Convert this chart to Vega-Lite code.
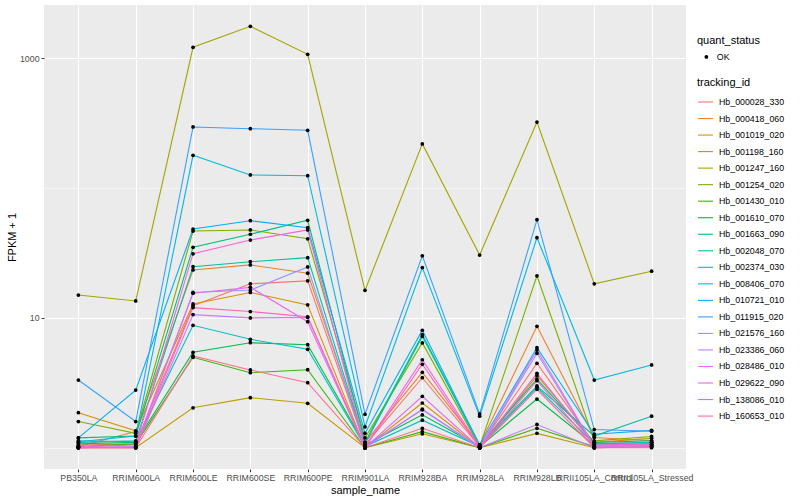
{
  "$schema": "https://vega.github.io/schema/vega-lite/v6.json",
  "autosize": {"type": "none"},
  "width": 642,
  "height": 464,
  "padding": {"left": 44, "top": 5, "right": 114, "bottom": 31},
  "background": "white",
  "config": {
    "view": {"fill": "#EBEBEB", "stroke": null},
    "font": "Liberation Sans",
    "axis": {
      "domain": false,
      "labelColor": "#4D4D4D",
      "labelFontSize": 8.8,
      "labelFont": "Liberation Sans",
      "tickColor": "#333333",
      "tickSize": 2.75,
      "tickWidth": 1,
      "labelPadding": 2.2,
      "titleFontSize": 11,
      "titleFont": "Liberation Sans",
      "titleFontWeight": "normal",
      "titleColor": "black",
      "gridColor": "white"
    },
    "legend": {
      "titleFontSize": 11,
      "titleFont": "Liberation Sans",
      "titleFontWeight": "normal",
      "titleColor": "black",
      "labelFontSize": 8.8,
      "labelFont": "Liberation Sans",
      "labelColor": "black",
      "padding": 0
    }
  },
  "datasets": {
    "expr": [
      {"tracking_id":"Hb_000028_330","sample_name":"PB350LA","fpkm":1.05,"quant_status":"OK"},
      {"tracking_id":"Hb_000028_330","sample_name":"RRIM600LA","fpkm":1.07,"quant_status":"OK"},
      {"tracking_id":"Hb_000028_330","sample_name":"RRIM600LE","fpkm":12.4,"quant_status":"OK"},
      {"tracking_id":"Hb_000028_330","sample_name":"RRIM600SE","fpkm":18.3,"quant_status":"OK"},
      {"tracking_id":"Hb_000028_330","sample_name":"RRIM600PE","fpkm":19.3,"quant_status":"OK"},
      {"tracking_id":"Hb_000028_330","sample_name":"RRIM901LA","fpkm":1.05,"quant_status":"OK"},
      {"tracking_id":"Hb_000028_330","sample_name":"RRIM928BA","fpkm":3.46,"quant_status":"OK"},
      {"tracking_id":"Hb_000028_330","sample_name":"RRIM928LA","fpkm":1.02,"quant_status":"OK"},
      {"tracking_id":"Hb_000028_330","sample_name":"RRIM928LB","fpkm":4.47,"quant_status":"OK"},
      {"tracking_id":"Hb_000028_330","sample_name":"RRII105LA_Control","fpkm":1.07,"quant_status":"OK"},
      {"tracking_id":"Hb_000028_330","sample_name":"RRII105LA_Stressed","fpkm":1.10,"quant_status":"OK"},

      {"tracking_id":"Hb_000418_060","sample_name":"PB350LA","fpkm":1.02,"quant_status":"OK"},
      {"tracking_id":"Hb_000418_060","sample_name":"RRIM600LA","fpkm":1.33,"quant_status":"OK"},
      {"tracking_id":"Hb_000418_060","sample_name":"RRIM600LE","fpkm":23.4,"quant_status":"OK"},
      {"tracking_id":"Hb_000418_060","sample_name":"RRIM600SE","fpkm":25.6,"quant_status":"OK"},
      {"tracking_id":"Hb_000418_060","sample_name":"RRIM600PE","fpkm":22.1,"quant_status":"OK"},
      {"tracking_id":"Hb_000418_060","sample_name":"RRIM901LA","fpkm":1.10,"quant_status":"OK"},
      {"tracking_id":"Hb_000418_060","sample_name":"RRIM928BA","fpkm":3.81,"quant_status":"OK"},
      {"tracking_id":"Hb_000418_060","sample_name":"RRIM928LA","fpkm":1.05,"quant_status":"OK"},
      {"tracking_id":"Hb_000418_060","sample_name":"RRIM928LB","fpkm":8.61,"quant_status":"OK"},
      {"tracking_id":"Hb_000418_060","sample_name":"RRII105LA_Control","fpkm":1.20,"quant_status":"OK"},
      {"tracking_id":"Hb_000418_060","sample_name":"RRII105LA_Stressed","fpkm":1.13,"quant_status":"OK"},

      {"tracking_id":"Hb_001019_020","sample_name":"PB350LA","fpkm":1.86,"quant_status":"OK"},
      {"tracking_id":"Hb_001019_020","sample_name":"RRIM600LA","fpkm":1.35,"quant_status":"OK"},
      {"tracking_id":"Hb_001019_020","sample_name":"RRIM600LE","fpkm":12.8,"quant_status":"OK"},
      {"tracking_id":"Hb_001019_020","sample_name":"RRIM600SE","fpkm":15.7,"quant_status":"OK"},
      {"tracking_id":"Hb_001019_020","sample_name":"RRIM600PE","fpkm":12.6,"quant_status":"OK"},
      {"tracking_id":"Hb_001019_020","sample_name":"RRIM901LA","fpkm":1.00,"quant_status":"OK"},
      {"tracking_id":"Hb_001019_020","sample_name":"RRIM928BA","fpkm":2.21,"quant_status":"OK"},
      {"tracking_id":"Hb_001019_020","sample_name":"RRIM928LA","fpkm":1.00,"quant_status":"OK"},
      {"tracking_id":"Hb_001019_020","sample_name":"RRIM928LB","fpkm":3.59,"quant_status":"OK"},
      {"tracking_id":"Hb_001019_020","sample_name":"RRII105LA_Control","fpkm":1.10,"quant_status":"OK"},
      {"tracking_id":"Hb_001019_020","sample_name":"RRII105LA_Stressed","fpkm":1.18,"quant_status":"OK"},

      {"tracking_id":"Hb_001198_160","sample_name":"PB350LA","fpkm":1.00,"quant_status":"OK"},
      {"tracking_id":"Hb_001198_160","sample_name":"RRIM600LA","fpkm":1.00,"quant_status":"OK"},
      {"tracking_id":"Hb_001198_160","sample_name":"RRIM600LE","fpkm":2.03,"quant_status":"OK"},
      {"tracking_id":"Hb_001198_160","sample_name":"RRIM600SE","fpkm":2.43,"quant_status":"OK"},
      {"tracking_id":"Hb_001198_160","sample_name":"RRIM600PE","fpkm":2.20,"quant_status":"OK"},
      {"tracking_id":"Hb_001198_160","sample_name":"RRIM901LA","fpkm":1.00,"quant_status":"OK"},
      {"tracking_id":"Hb_001198_160","sample_name":"RRIM928BA","fpkm":1.28,"quant_status":"OK"},
      {"tracking_id":"Hb_001198_160","sample_name":"RRIM928LA","fpkm":1.00,"quant_status":"OK"},
      {"tracking_id":"Hb_001198_160","sample_name":"RRIM928LB","fpkm":1.29,"quant_status":"OK"},
      {"tracking_id":"Hb_001198_160","sample_name":"RRII105LA_Control","fpkm":1.00,"quant_status":"OK"},
      {"tracking_id":"Hb_001198_160","sample_name":"RRII105LA_Stressed","fpkm":1.02,"quant_status":"OK"},

      {"tracking_id":"Hb_001247_160","sample_name":"PB350LA","fpkm":15.0,"quant_status":"OK"},
      {"tracking_id":"Hb_001247_160","sample_name":"RRIM600LA","fpkm":13.5,"quant_status":"OK"},
      {"tracking_id":"Hb_001247_160","sample_name":"RRIM600LE","fpkm":1216,"quant_status":"OK"},
      {"tracking_id":"Hb_001247_160","sample_name":"RRIM600SE","fpkm":1765,"quant_status":"OK"},
      {"tracking_id":"Hb_001247_160","sample_name":"RRIM600PE","fpkm":1074,"quant_status":"OK"},
      {"tracking_id":"Hb_001247_160","sample_name":"RRIM901LA","fpkm":16.3,"quant_status":"OK"},
      {"tracking_id":"Hb_001247_160","sample_name":"RRIM928BA","fpkm":219,"quant_status":"OK"},
      {"tracking_id":"Hb_001247_160","sample_name":"RRIM928LA","fpkm":30.5,"quant_status":"OK"},
      {"tracking_id":"Hb_001247_160","sample_name":"RRIM928LB","fpkm":323,"quant_status":"OK"},
      {"tracking_id":"Hb_001247_160","sample_name":"RRII105LA_Control","fpkm":18.3,"quant_status":"OK"},
      {"tracking_id":"Hb_001247_160","sample_name":"RRII105LA_Stressed","fpkm":22.9,"quant_status":"OK"},

      {"tracking_id":"Hb_001254_020","sample_name":"PB350LA","fpkm":1.59,"quant_status":"OK"},
      {"tracking_id":"Hb_001254_020","sample_name":"RRIM600LA","fpkm":1.29,"quant_status":"OK"},
      {"tracking_id":"Hb_001254_020","sample_name":"RRIM600LE","fpkm":46.7,"quant_status":"OK"},
      {"tracking_id":"Hb_001254_020","sample_name":"RRIM600SE","fpkm":47.6,"quant_status":"OK"},
      {"tracking_id":"Hb_001254_020","sample_name":"RRIM600PE","fpkm":40.7,"quant_status":"OK"},
      {"tracking_id":"Hb_001254_020","sample_name":"RRIM901LA","fpkm":1.19,"quant_status":"OK"},
      {"tracking_id":"Hb_001254_020","sample_name":"RRIM928BA","fpkm":6.41,"quant_status":"OK"},
      {"tracking_id":"Hb_001254_020","sample_name":"RRIM928LA","fpkm":1.02,"quant_status":"OK"},
      {"tracking_id":"Hb_001254_020","sample_name":"RRIM928LB","fpkm":21.1,"quant_status":"OK"},
      {"tracking_id":"Hb_001254_020","sample_name":"RRII105LA_Control","fpkm":1.13,"quant_status":"OK"},
      {"tracking_id":"Hb_001254_020","sample_name":"RRII105LA_Stressed","fpkm":1.22,"quant_status":"OK"},

      {"tracking_id":"Hb_001430_010","sample_name":"PB350LA","fpkm":1.02,"quant_status":"OK"},
      {"tracking_id":"Hb_001430_010","sample_name":"RRIM600LA","fpkm":1.07,"quant_status":"OK"},
      {"tracking_id":"Hb_001430_010","sample_name":"RRIM600LE","fpkm":4.97,"quant_status":"OK"},
      {"tracking_id":"Hb_001430_010","sample_name":"RRIM600SE","fpkm":3.78,"quant_status":"OK"},
      {"tracking_id":"Hb_001430_010","sample_name":"RRIM600PE","fpkm":3.99,"quant_status":"OK"},
      {"tracking_id":"Hb_001430_010","sample_name":"RRIM901LA","fpkm":1.00,"quant_status":"OK"},
      {"tracking_id":"Hb_001430_010","sample_name":"RRIM928BA","fpkm":1.33,"quant_status":"OK"},
      {"tracking_id":"Hb_001430_010","sample_name":"RRIM928LA","fpkm":1.00,"quant_status":"OK"},
      {"tracking_id":"Hb_001430_010","sample_name":"RRIM928LB","fpkm":1.41,"quant_status":"OK"},
      {"tracking_id":"Hb_001430_010","sample_name":"RRII105LA_Control","fpkm":1.02,"quant_status":"OK"},
      {"tracking_id":"Hb_001430_010","sample_name":"RRII105LA_Stressed","fpkm":1.05,"quant_status":"OK"},

      {"tracking_id":"Hb_001610_070","sample_name":"PB350LA","fpkm":1.07,"quant_status":"OK"},
      {"tracking_id":"Hb_001610_070","sample_name":"RRIM600LA","fpkm":1.10,"quant_status":"OK"},
      {"tracking_id":"Hb_001610_070","sample_name":"RRIM600LE","fpkm":5.43,"quant_status":"OK"},
      {"tracking_id":"Hb_001610_070","sample_name":"RRIM600SE","fpkm":6.44,"quant_status":"OK"},
      {"tracking_id":"Hb_001610_070","sample_name":"RRIM600PE","fpkm":6.22,"quant_status":"OK"},
      {"tracking_id":"Hb_001610_070","sample_name":"RRIM901LA","fpkm":1.05,"quant_status":"OK"},
      {"tracking_id":"Hb_001610_070","sample_name":"RRIM928BA","fpkm":1.79,"quant_status":"OK"},
      {"tracking_id":"Hb_001610_070","sample_name":"RRIM928LA","fpkm":1.02,"quant_status":"OK"},
      {"tracking_id":"Hb_001610_070","sample_name":"RRIM928LB","fpkm":2.37,"quant_status":"OK"},
      {"tracking_id":"Hb_001610_070","sample_name":"RRII105LA_Control","fpkm":1.05,"quant_status":"OK"},
      {"tracking_id":"Hb_001610_070","sample_name":"RRII105LA_Stressed","fpkm":1.07,"quant_status":"OK"},

      {"tracking_id":"Hb_001663_090","sample_name":"PB350LA","fpkm":1.19,"quant_status":"OK"},
      {"tracking_id":"Hb_001663_090","sample_name":"RRIM600LA","fpkm":1.23,"quant_status":"OK"},
      {"tracking_id":"Hb_001663_090","sample_name":"RRIM600LE","fpkm":35.0,"quant_status":"OK"},
      {"tracking_id":"Hb_001663_090","sample_name":"RRIM600SE","fpkm":44.1,"quant_status":"OK"},
      {"tracking_id":"Hb_001663_090","sample_name":"RRIM600PE","fpkm":56.5,"quant_status":"OK"},
      {"tracking_id":"Hb_001663_090","sample_name":"RRIM901LA","fpkm":1.10,"quant_status":"OK"},
      {"tracking_id":"Hb_001663_090","sample_name":"RRIM928BA","fpkm":7.42,"quant_status":"OK"},
      {"tracking_id":"Hb_001663_090","sample_name":"RRIM928LA","fpkm":1.05,"quant_status":"OK"},
      {"tracking_id":"Hb_001663_090","sample_name":"RRIM928LB","fpkm":3.38,"quant_status":"OK"},
      {"tracking_id":"Hb_001663_090","sample_name":"RRII105LA_Control","fpkm":1.10,"quant_status":"OK"},
      {"tracking_id":"Hb_001663_090","sample_name":"RRII105LA_Stressed","fpkm":1.13,"quant_status":"OK"},

      {"tracking_id":"Hb_002048_070","sample_name":"PB350LA","fpkm":1.10,"quant_status":"OK"},
      {"tracking_id":"Hb_002048_070","sample_name":"RRIM600LA","fpkm":1.13,"quant_status":"OK"},
      {"tracking_id":"Hb_002048_070","sample_name":"RRIM600LE","fpkm":24.8,"quant_status":"OK"},
      {"tracking_id":"Hb_002048_070","sample_name":"RRIM600SE","fpkm":27.1,"quant_status":"OK"},
      {"tracking_id":"Hb_002048_070","sample_name":"RRIM600PE","fpkm":29.1,"quant_status":"OK"},
      {"tracking_id":"Hb_002048_070","sample_name":"RRIM901LA","fpkm":1.07,"quant_status":"OK"},
      {"tracking_id":"Hb_002048_070","sample_name":"RRIM928BA","fpkm":7.20,"quant_status":"OK"},
      {"tracking_id":"Hb_002048_070","sample_name":"RRIM928LA","fpkm":1.05,"quant_status":"OK"},
      {"tracking_id":"Hb_002048_070","sample_name":"RRIM928LB","fpkm":2.99,"quant_status":"OK"},
      {"tracking_id":"Hb_002048_070","sample_name":"RRII105LA_Control","fpkm":1.23,"quant_status":"OK"},
      {"tracking_id":"Hb_002048_070","sample_name":"RRII105LA_Stressed","fpkm":1.75,"quant_status":"OK"},

      {"tracking_id":"Hb_002374_030","sample_name":"PB350LA","fpkm":1.13,"quant_status":"OK"},
      {"tracking_id":"Hb_002374_030","sample_name":"RRIM600LA","fpkm":1.11,"quant_status":"OK"},
      {"tracking_id":"Hb_002374_030","sample_name":"RRIM600LE","fpkm":8.77,"quant_status":"OK"},
      {"tracking_id":"Hb_002374_030","sample_name":"RRIM600SE","fpkm":6.84,"quant_status":"OK"},
      {"tracking_id":"Hb_002374_030","sample_name":"RRIM600PE","fpkm":5.73,"quant_status":"OK"},
      {"tracking_id":"Hb_002374_030","sample_name":"RRIM901LA","fpkm":1.02,"quant_status":"OK"},
      {"tracking_id":"Hb_002374_030","sample_name":"RRIM928BA","fpkm":1.63,"quant_status":"OK"},
      {"tracking_id":"Hb_002374_030","sample_name":"RRIM928LA","fpkm":1.02,"quant_status":"OK"},
      {"tracking_id":"Hb_002374_030","sample_name":"RRIM928LB","fpkm":2.92,"quant_status":"OK"},
      {"tracking_id":"Hb_002374_030","sample_name":"RRII105LA_Control","fpkm":1.07,"quant_status":"OK"},
      {"tracking_id":"Hb_002374_030","sample_name":"RRII105LA_Stressed","fpkm":1.10,"quant_status":"OK"},

      {"tracking_id":"Hb_008406_070","sample_name":"PB350LA","fpkm":1.11,"quant_status":"OK"},
      {"tracking_id":"Hb_008406_070","sample_name":"RRIM600LA","fpkm":1.23,"quant_status":"OK"},
      {"tracking_id":"Hb_008406_070","sample_name":"RRIM600LE","fpkm":178.9,"quant_status":"OK"},
      {"tracking_id":"Hb_008406_070","sample_name":"RRIM600SE","fpkm":126.2,"quant_status":"OK"},
      {"tracking_id":"Hb_008406_070","sample_name":"RRIM600PE","fpkm":124.6,"quant_status":"OK"},
      {"tracking_id":"Hb_008406_070","sample_name":"RRIM901LA","fpkm":1.45,"quant_status":"OK"},
      {"tracking_id":"Hb_008406_070","sample_name":"RRIM928BA","fpkm":24.4,"quant_status":"OK"},
      {"tracking_id":"Hb_008406_070","sample_name":"RRIM928LA","fpkm":1.75,"quant_status":"OK"},
      {"tracking_id":"Hb_008406_070","sample_name":"RRIM928LB","fpkm":41.5,"quant_status":"OK"},
      {"tracking_id":"Hb_008406_070","sample_name":"RRII105LA_Control","fpkm":3.32,"quant_status":"OK"},
      {"tracking_id":"Hb_008406_070","sample_name":"RRII105LA_Stressed","fpkm":4.34,"quant_status":"OK"},

      {"tracking_id":"Hb_010721_010","sample_name":"PB350LA","fpkm":1.19,"quant_status":"OK"},
      {"tracking_id":"Hb_010721_010","sample_name":"RRIM600LA","fpkm":2.78,"quant_status":"OK"},
      {"tracking_id":"Hb_010721_010","sample_name":"RRIM600LE","fpkm":48.4,"quant_status":"OK"},
      {"tracking_id":"Hb_010721_010","sample_name":"RRIM600SE","fpkm":56.1,"quant_status":"OK"},
      {"tracking_id":"Hb_010721_010","sample_name":"RRIM600PE","fpkm":49.5,"quant_status":"OK"},
      {"tracking_id":"Hb_010721_010","sample_name":"RRIM901LA","fpkm":1.29,"quant_status":"OK"},
      {"tracking_id":"Hb_010721_010","sample_name":"RRIM928BA","fpkm":8.03,"quant_status":"OK"},
      {"tracking_id":"Hb_010721_010","sample_name":"RRIM928LA","fpkm":1.05,"quant_status":"OK"},
      {"tracking_id":"Hb_010721_010","sample_name":"RRIM928LB","fpkm":5.89,"quant_status":"OK"},
      {"tracking_id":"Hb_010721_010","sample_name":"RRII105LA_Control","fpkm":1.27,"quant_status":"OK"},
      {"tracking_id":"Hb_010721_010","sample_name":"RRII105LA_Stressed","fpkm":1.36,"quant_status":"OK"},

      {"tracking_id":"Hb_011915_020","sample_name":"PB350LA","fpkm":3.32,"quant_status":"OK"},
      {"tracking_id":"Hb_011915_020","sample_name":"RRIM600LA","fpkm":1.59,"quant_status":"OK"},
      {"tracking_id":"Hb_011915_020","sample_name":"RRIM600LE","fpkm":295.7,"quant_status":"OK"},
      {"tracking_id":"Hb_011915_020","sample_name":"RRIM600SE","fpkm":286.8,"quant_status":"OK"},
      {"tracking_id":"Hb_011915_020","sample_name":"RRIM600PE","fpkm":278.7,"quant_status":"OK"},
      {"tracking_id":"Hb_011915_020","sample_name":"RRIM901LA","fpkm":1.81,"quant_status":"OK"},
      {"tracking_id":"Hb_011915_020","sample_name":"RRIM928BA","fpkm":30.1,"quant_status":"OK"},
      {"tracking_id":"Hb_011915_020","sample_name":"RRIM928LA","fpkm":1.82,"quant_status":"OK"},
      {"tracking_id":"Hb_011915_020","sample_name":"RRIM928LB","fpkm":57.1,"quant_status":"OK"},
      {"tracking_id":"Hb_011915_020","sample_name":"RRII105LA_Control","fpkm":1.38,"quant_status":"OK"},
      {"tracking_id":"Hb_011915_020","sample_name":"RRII105LA_Stressed","fpkm":1.34,"quant_status":"OK"},

      {"tracking_id":"Hb_021576_160","sample_name":"PB350LA","fpkm":1.00,"quant_status":"OK"},
      {"tracking_id":"Hb_021576_160","sample_name":"RRIM600LA","fpkm":1.02,"quant_status":"OK"},
      {"tracking_id":"Hb_021576_160","sample_name":"RRIM600LE","fpkm":15.7,"quant_status":"OK"},
      {"tracking_id":"Hb_021576_160","sample_name":"RRIM600SE","fpkm":16.4,"quant_status":"OK"},
      {"tracking_id":"Hb_021576_160","sample_name":"RRIM600PE","fpkm":24.7,"quant_status":"OK"},
      {"tracking_id":"Hb_021576_160","sample_name":"RRIM901LA","fpkm":1.02,"quant_status":"OK"},
      {"tracking_id":"Hb_021576_160","sample_name":"RRIM928BA","fpkm":1.96,"quant_status":"OK"},
      {"tracking_id":"Hb_021576_160","sample_name":"RRIM928LA","fpkm":1.00,"quant_status":"OK"},
      {"tracking_id":"Hb_021576_160","sample_name":"RRIM928LB","fpkm":5.34,"quant_status":"OK"},
      {"tracking_id":"Hb_021576_160","sample_name":"RRII105LA_Control","fpkm":1.02,"quant_status":"OK"},
      {"tracking_id":"Hb_021576_160","sample_name":"RRII105LA_Stressed","fpkm":1.05,"quant_status":"OK"},

      {"tracking_id":"Hb_023386_060","sample_name":"PB350LA","fpkm":1.02,"quant_status":"OK"},
      {"tracking_id":"Hb_023386_060","sample_name":"RRIM600LA","fpkm":1.00,"quant_status":"OK"},
      {"tracking_id":"Hb_023386_060","sample_name":"RRIM600LE","fpkm":10.6,"quant_status":"OK"},
      {"tracking_id":"Hb_023386_060","sample_name":"RRIM600SE","fpkm":10.0,"quant_status":"OK"},
      {"tracking_id":"Hb_023386_060","sample_name":"RRIM600PE","fpkm":10.1,"quant_status":"OK"},
      {"tracking_id":"Hb_023386_060","sample_name":"RRIM901LA","fpkm":1.00,"quant_status":"OK"},
      {"tracking_id":"Hb_023386_060","sample_name":"RRIM928BA","fpkm":1.98,"quant_status":"OK"},
      {"tracking_id":"Hb_023386_060","sample_name":"RRIM928LA","fpkm":1.00,"quant_status":"OK"},
      {"tracking_id":"Hb_023386_060","sample_name":"RRIM928LB","fpkm":1.51,"quant_status":"OK"},
      {"tracking_id":"Hb_023386_060","sample_name":"RRII105LA_Control","fpkm":1.00,"quant_status":"OK"},
      {"tracking_id":"Hb_023386_060","sample_name":"RRII105LA_Stressed","fpkm":1.02,"quant_status":"OK"},

      {"tracking_id":"Hb_028486_010","sample_name":"PB350LA","fpkm":1.00,"quant_status":"OK"},
      {"tracking_id":"Hb_028486_010","sample_name":"RRIM600LA","fpkm":1.02,"quant_status":"OK"},
      {"tracking_id":"Hb_028486_010","sample_name":"RRIM600LE","fpkm":15.5,"quant_status":"OK"},
      {"tracking_id":"Hb_028486_010","sample_name":"RRIM600SE","fpkm":17.2,"quant_status":"OK"},
      {"tracking_id":"Hb_028486_010","sample_name":"RRIM600PE","fpkm":9.35,"quant_status":"OK"},
      {"tracking_id":"Hb_028486_010","sample_name":"RRIM901LA","fpkm":1.00,"quant_status":"OK"},
      {"tracking_id":"Hb_028486_010","sample_name":"RRIM928BA","fpkm":2.49,"quant_status":"OK"},
      {"tracking_id":"Hb_028486_010","sample_name":"RRIM928LA","fpkm":1.00,"quant_status":"OK"},
      {"tracking_id":"Hb_028486_010","sample_name":"RRIM928LB","fpkm":5.65,"quant_status":"OK"},
      {"tracking_id":"Hb_028486_010","sample_name":"RRII105LA_Control","fpkm":1.02,"quant_status":"OK"},
      {"tracking_id":"Hb_028486_010","sample_name":"RRII105LA_Stressed","fpkm":1.05,"quant_status":"OK"},

      {"tracking_id":"Hb_029622_090","sample_name":"PB350LA","fpkm":1.02,"quant_status":"OK"},
      {"tracking_id":"Hb_029622_090","sample_name":"RRIM600LA","fpkm":1.05,"quant_status":"OK"},
      {"tracking_id":"Hb_029622_090","sample_name":"RRIM600LE","fpkm":31.2,"quant_status":"OK"},
      {"tracking_id":"Hb_029622_090","sample_name":"RRIM600SE","fpkm":39.8,"quant_status":"OK"},
      {"tracking_id":"Hb_029622_090","sample_name":"RRIM600PE","fpkm":47.6,"quant_status":"OK"},
      {"tracking_id":"Hb_029622_090","sample_name":"RRIM901LA","fpkm":1.02,"quant_status":"OK"},
      {"tracking_id":"Hb_029622_090","sample_name":"RRIM928BA","fpkm":4.76,"quant_status":"OK"},
      {"tracking_id":"Hb_029622_090","sample_name":"RRIM928LA","fpkm":1.02,"quant_status":"OK"},
      {"tracking_id":"Hb_029622_090","sample_name":"RRIM928LB","fpkm":3.74,"quant_status":"OK"},
      {"tracking_id":"Hb_029622_090","sample_name":"RRII105LA_Control","fpkm":1.05,"quant_status":"OK"},
      {"tracking_id":"Hb_029622_090","sample_name":"RRII105LA_Stressed","fpkm":1.07,"quant_status":"OK"},

      {"tracking_id":"Hb_138086_010","sample_name":"PB350LA","fpkm":1.00,"quant_status":"OK"},
      {"tracking_id":"Hb_138086_010","sample_name":"RRIM600LA","fpkm":1.00,"quant_status":"OK"},
      {"tracking_id":"Hb_138086_010","sample_name":"RRIM600LE","fpkm":12.0,"quant_status":"OK"},
      {"tracking_id":"Hb_138086_010","sample_name":"RRIM600SE","fpkm":11.2,"quant_status":"OK"},
      {"tracking_id":"Hb_138086_010","sample_name":"RRIM600PE","fpkm":10.2,"quant_status":"OK"},
      {"tracking_id":"Hb_138086_010","sample_name":"RRIM901LA","fpkm":1.00,"quant_status":"OK"},
      {"tracking_id":"Hb_138086_010","sample_name":"RRIM928BA","fpkm":4.39,"quant_status":"OK"},
      {"tracking_id":"Hb_138086_010","sample_name":"RRIM928LA","fpkm":1.00,"quant_status":"OK"},
      {"tracking_id":"Hb_138086_010","sample_name":"RRIM928LB","fpkm":3.28,"quant_status":"OK"},
      {"tracking_id":"Hb_138086_010","sample_name":"RRII105LA_Control","fpkm":1.00,"quant_status":"OK"},
      {"tracking_id":"Hb_138086_010","sample_name":"RRII105LA_Stressed","fpkm":1.02,"quant_status":"OK"},

      {"tracking_id":"Hb_160653_010","sample_name":"PB350LA","fpkm":1.00,"quant_status":"OK"},
      {"tracking_id":"Hb_160653_010","sample_name":"RRIM600LA","fpkm":1.00,"quant_status":"OK"},
      {"tracking_id":"Hb_160653_010","sample_name":"RRIM600LE","fpkm":5.09,"quant_status":"OK"},
      {"tracking_id":"Hb_160653_010","sample_name":"RRIM600SE","fpkm":3.97,"quant_status":"OK"},
      {"tracking_id":"Hb_160653_010","sample_name":"RRIM600PE","fpkm":3.17,"quant_status":"OK"},
      {"tracking_id":"Hb_160653_010","sample_name":"RRIM901LA","fpkm":1.00,"quant_status":"OK"},
      {"tracking_id":"Hb_160653_010","sample_name":"RRIM928BA","fpkm":1.41,"quant_status":"OK"},
      {"tracking_id":"Hb_160653_010","sample_name":"RRIM928LA","fpkm":1.00,"quant_status":"OK"},
      {"tracking_id":"Hb_160653_010","sample_name":"RRIM928LB","fpkm":2.82,"quant_status":"OK"},
      {"tracking_id":"Hb_160653_010","sample_name":"RRII105LA_Control","fpkm":1.00,"quant_status":"OK"},
      {"tracking_id":"Hb_160653_010","sample_name":"RRII105LA_Stressed","fpkm":1.00,"quant_status":"OK"}
    ]
  },
  "data": {"name": "expr"},
  "encoding": {
    "x": {
      "field": "sample_name",
      "type": "nominal",
      "sort": ["PB350LA","RRIM600LA","RRIM600LE","RRIM600SE","RRIM600PE","RRIM901LA","RRIM928BA","RRIM928LA","RRIM928LB","RRII105LA_Control","RRII105LA_Stressed"],
      "scale": {"type": "point", "padding": 0.6},
      "axis": {
        "title": "sample_name",
        "labelAngle": 0,
        "labelOverlap": false,
        "labelBound": false,
        "grid": true,
        "gridWidth": 1.07,
        "ticks": true,
        "titleY": 21,
        "titleBaseline": "middle"
      }
    },
    "y": {
      "field": "fpkm",
      "type": "quantitative",
      "scale": {"type": "log", "domain": [0.6854, 2574], "nice": false, "zero": false},
      "axis": {
        "title": "FPKM + 1",
        "values": [1, 10, 100, 1000],
        "format": "d",
        "labelExpr": "datum.value == 10 || datum.value == 1000 ? datum.label : ''",
        "grid": true,
        "gridWidth": {"condition": {"test": "datum.value == 1 || datum.value == 100", "value": 0.55}, "value": 1.07},
        "tickOpacity": {"condition": {"test": "datum.value == 1 || datum.value == 100", "value": 0}, "value": 1},
        "labelOverlap": false,
        "titleX": -32,
        "titleBaseline": "middle"
      }
    }
  },
  "layer": [
    {
      "mark": {"type": "line", "strokeWidth": 1.1},
      "encoding": {
        "color": {
          "field": "tracking_id",
          "type": "nominal",
          "scale": {
            "domain": ["Hb_000028_330","Hb_000418_060","Hb_001019_020","Hb_001198_160","Hb_001247_160","Hb_001254_020","Hb_001430_010","Hb_001610_070","Hb_001663_090","Hb_002048_070","Hb_002374_030","Hb_008406_070","Hb_010721_010","Hb_011915_020","Hb_021576_160","Hb_023386_060","Hb_028486_010","Hb_029622_090","Hb_138086_010","Hb_160653_010"],
            "range": ["#F8766D","#EA8331","#D89000","#C09B00","#A3A500","#7CAE00","#39B600","#00BB4E","#00BF7D","#00C1A3","#00BFC4","#00BAE0","#00B0F6","#35A2FF","#9590FF","#C77CFF","#E76BF3","#FA62DB","#FF62BC","#FF6C91"]
          },
          "legend": {
            "title": "tracking_id",
            "orient": "none",
            "legendX": 653,
            "legendY": 71.5,
            "symbolType": "stroke",
            "symbolSize": 225,
            "symbolStrokeWidth": 1.1,
            "rowPadding": 2.53,
            "labelOffset": 5,
            "titlePadding": 6
          }
        }
      }
    },
    {
      "mark": {"type": "point", "filled": true, "color": "black", "size": 14, "opacity": 1},
      "encoding": {
        "shape": {
          "field": "quant_status",
          "type": "nominal",
          "scale": {"range": ["circle"]},
          "legend": {
            "title": "quant_status",
            "orient": "none",
            "legendX": 653,
            "legendY": 29.5,
            "symbolSize": 14,
            "symbolFillColor": "black",
            "symbolStrokeColor": "black",
            "symbolOffset": 5,
            "labelOffset": 6,
            "titlePadding": 7
          }
        }
      }
    }
  ]
}
